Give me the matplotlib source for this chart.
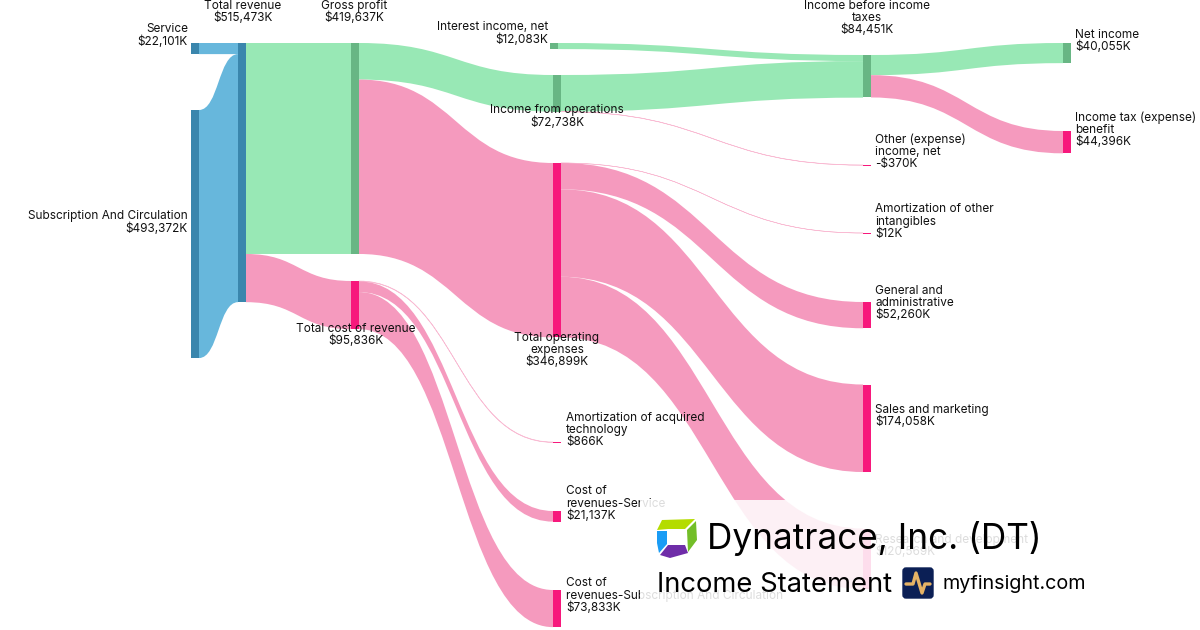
import matplotlib
matplotlib.use('Agg')
import matplotlib.pyplot as plt
from matplotlib.patches import PathPatch, Polygon, Rectangle, FancyBboxPatch
from matplotlib.path import Path

plt.rcParams['font.family'] = ['Inter', 'DejaVu Sans']

# values in $K
NODE_NAMES = ['Service', 'Subscription And Circulation', 'Total revenue', 'Gross profit',
              'Total cost of revenue', 'Interest income, net', 'Income from operations',
              'Total operating\nexpenses', 'Amortization of acquired\ntechnology',
              'Cost of\nrevenues-Service', 'Cost of\nrevenues-Subscription And Circulation',
              'Income before income\ntaxes', 'Other (expense)\nincome, net',
              'Amortization of other\nintangibles', 'General and\nadministrative',
              'Sales and marketing', 'Research and development', 'Net income',
              'Income tax (expense)\nbenefit']
NODE_VALUES = [22101, 493372, 515473, 419637, 95836, 12083, 72738, 346899, 866, 21137,
               73833, 84451, -370, 12, 52260, 174058, 120569, 40055, 44396]
NODE_KIND = ['rev', 'rev', 'rev', 'pos', 'neg', 'pos', 'pos', 'neg', 'neg', 'neg', 'neg',
             'pos', 'neg', 'neg', 'neg', 'neg', 'neg', 'pos', 'neg']

LINK_SRC = [0, 1, 2, 2, 3, 3, 5, 6, 6, 7, 7, 7, 7, 4, 4, 4, 11, 11]
LINK_DST = [2, 2, 3, 4, 6, 7, 11, 11, 12, 13, 14, 15, 16, 8, 9, 10, 17, 18]
LINK_VAL = [22101, 493372, 419637, 95836, 72738, 346899, 12083, 72738, 370, 12, 52260,
            174058, 120569, 866, 21137, 73833, 40055, 44396]

# layout in pixels
NODE_X = [191, 191, 238, 351, 351, 550, 553, 553, 553, 553, 553, 863, 863, 863, 863, 863, 863, 1063, 1063]
NODE_Y = [43, 110, 43, 43, 281, 43, 75, 163, 442, 511, 590, 55, 165, 233, 302, 384.5, 528.5, 43, 131]
LABEL_X = [188, 188, 243, 354, 356, 548, 557, 557, 566, 566, 566, 867, 875, 875, 875, 875, 875, 1075, 1075]
LABEL_Y = [29.5, 216.5, 6, 6, 328.5, 27.5, 110.5, 337.5, 417.5, 491.5, 583.5, 6, 139.5, 209.5, 290.5, 409.5, 539.5, 34.5, 117.5]
LABEL_HA = ['right', 'right', 'center', 'center', 'center', 'right', 'center', 'center', 'left', 'left',
            'left', 'center', 'left', 'left', 'left', 'left', 'left', 'left', 'left']
# 1 px of band per this many $K
K_PER_PX = 1989.0
NODE_W = 8
LINE_H = 12.1

LINK_COLOR = {'rev': '#67B7DC', 'pos': '#98E8B5', 'neg': '#F59ABE'}
NODE_COLOR = {'rev': '#3A86AD', 'pos': '#68B684', 'neg': '#F7187C'}


def band(x0, x1, y0, y1, h):
    xm = (x0 + x1) / 2
    verts = [(x0, y0), (xm, y0), (xm, y1), (x1, y1),
             (x1, y1 + h), (xm, y1 + h), (xm, y0 + h), (x0, y0 + h), (x0, y0)]
    codes = [Path.MOVETO, Path.CURVE4, Path.CURVE4, Path.CURVE4,
             Path.LINETO, Path.CURVE4, Path.CURVE4, Path.CURVE4, Path.CLOSEPOLY]
    return Path(verts, codes)


fig = plt.figure(figsize=(12, 6.3), dpi=100)
ax = fig.add_axes([0, 0, 1, 1])
ax.set_xlim(0, 1200)
ax.set_ylim(630, 0)
ax.axis('off')

out_off = [0.0] * len(NODE_VALUES)
in_off = [0.0] * len(NODE_VALUES)
for s, d, v in zip(LINK_SRC, LINK_DST, LINK_VAL):
    h = v / K_PER_PX
    y0 = NODE_Y[s] + out_off[s]
    y1 = NODE_Y[d] + in_off[d]
    out_off[s] += h
    in_off[d] += h
    # colour of a link follows its target
    col = LINK_COLOR[NODE_KIND[d]]
    thin = h < 0.6
    ax.add_patch(PathPatch(band(NODE_X[s] + NODE_W, NODE_X[d], y0, y1, h), facecolor=col,
                           edgecolor='#F9BBD3' if thin else 'none', lw=0.4 if thin else 0, zorder=2))

for i, v in enumerate(NODE_VALUES):
    h = max(abs(v) / K_PER_PX, 0.7)
    ax.add_patch(Rectangle((NODE_X[i], NODE_Y[i]), NODE_W, h, facecolor=NODE_COLOR[NODE_KIND[i]],
                           edgecolor='none', zorder=3))
    val = f"-${-v:,}K" if v < 0 else f"${v:,}K"
    lines = NODE_NAMES[i].split('\n') + [val]
    for j, line in enumerate(lines):
        ax.text(LABEL_X[i], LABEL_Y[i] + j * LINE_H, line, ha=LABEL_HA[i], va='center',
                fontsize=8.5, color='#111111', zorder=4)

# white veil under the brand block
ax.add_patch(Rectangle((640, 500), 460, 130, facecolor='white', alpha=0.86, edgecolor='none', zorder=5))

# company logo
for pts, col in [([(657, 530), (662, 520), (695, 519), (685, 529), (668, 529)], '#B4DC00'),
                 ([(657, 531), (667, 531), (667, 544), (659, 553), (657, 543)], '#1A9CF5'),
                 ([(696, 521), (697, 540), (688, 552), (687, 530)], '#73BE28'),
                 ([(660, 555), (668, 545), (685, 545), (688, 553), (670, 558)], '#6F2DA8')]:
    ax.add_patch(Polygon(pts, closed=True, facecolor=col, edgecolor='none', zorder=6))

ax.text(707, 539, 'Dynatrace, Inc. (DT)', fontsize=25.3, va='center', ha='left', color='black', zorder=6)
ax.text(657, 584.5, 'Income Statement', fontsize=19.7, va='center', ha='left', color='black', zorder=6)
ax.text(942, 584, 'myfinsight.com', fontsize=14.2, va='center', ha='left', color='black', zorder=6)

ax.add_patch(FancyBboxPatch((903, 568), 30, 30, boxstyle='round,pad=0,rounding_size=3',
                            facecolor='#0B1F55', edgecolor='#0B1F55', lw=1, zorder=6))
ax.plot([906, 913, 916, 922, 925, 930], [584, 584, 573, 593, 584, 584], color='#E5B265', lw=2.4,
        solid_joinstyle='round', solid_capstyle='round', zorder=7)

fig.savefig('out.png', dpi=100)
